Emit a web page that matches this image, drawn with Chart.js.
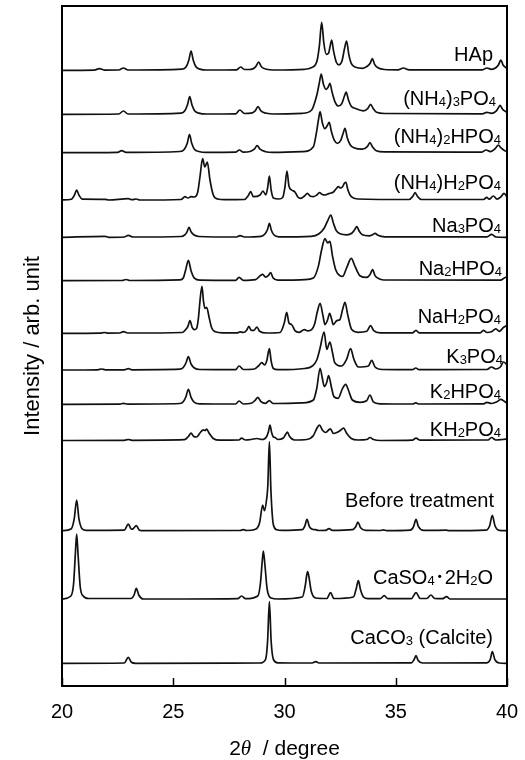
<!DOCTYPE html>
<html><head><meta charset="utf-8">
<script src="https://cdn.jsdelivr.net/npm/chart.js@4.4.1/dist/chart.umd.min.js"></script>
<style>html,body{margin:0;padding:0;background:#fff}canvas{display:block}</style>
</head><body>
<canvas id="c" width="525" height="760"></canvas>
<script>
// ---------- DATA ----------
const xTicks = [20, 25, 30, 35, 40];
const sampleNames = ["HAp","(NH_4)_3PO_4","(NH_4)_2HPO_4","(NH_4)H_2PO_4","Na_3PO_4","Na_2HPO_4","NaH_2PO_4","K_3PO_4","K_2HPO_4","KH_2PO_4","Before treatment","CaSO_4\uFF652H_2O","CaCO_3 (Calcite)"];
// stacking offset (arb. unit) for each pattern
const baselines = [615.7, 571.7, 533.3, 486, 448.7, 405.3, 352.7, 316, 281.7, 245.5, 155.3, 87, 22.7];

// each pattern: [2theta, intensity above its baseline]
const hap = [[20,0],[21.45,0.2],[21.68,1.7],[21.9,0.2],[22.55,0.3],[22.76,2.3],[22.97,0.3],
[25.4,1.2],[25.58,3.5],[25.7,10],[25.8,19.3],[25.9,10],[26.02,3.5],[26.2,1.2],[26.5,0.3],
[27.85,0.5],[28.03,3.3],[28.2,0.8],[28.5,1],[28.7,3.5],[28.84,8.3],[28.96,3.5],[29.2,1],[29.5,0.3],
[30.9,1],[31.2,2.5],[31.45,8.5],[31.57,25],[31.67,48],[31.77,27],[31.88,16],[31.98,17],[32.05,24],[32.12,30.3],[32.2,20],[32.33,8],[32.45,5.5],[32.58,9],[32.7,22],[32.79,29.3],[32.89,16],[33.0,7],[33.2,3],[33.5,2],[33.72,4],[33.85,7],[33.95,11.7],[34.05,6],[34.2,2.5],[34.5,0.8],
[35.1,0.5],[35.34,2.3],[35.6,0.5],[38.9,0.5],[39.09,2.3],[39.3,1],[39.5,2.5],[39.62,5.5],[39.72,10.3],[39.83,5],[40,2]];

const nh4_3 = [[20,0],[22.55,0.3],[22.76,3.3],[22.97,0.3],
[25.35,1.2],[25.52,3.5],[25.64,9.5],[25.74,17.7],[25.84,9.5],[25.96,3.5],[26.15,1.2],[26.5,0.3],
[27.8,0.5],[27.99,4.3],[28.2,0.8],[28.5,1.2],[28.68,3.5],[28.81,7.7],[28.94,3.5],[29.2,1],[29.5,0.3],
[30.8,1],[31.22,4.3],[31.45,19],[31.57,32],[31.65,40.3],[31.75,30],[31.87,25],[31.96,27],[32.04,31],[32.14,22],[32.28,12],[32.42,8.3],[32.58,11],[32.69,18],[32.77,22.3],[32.88,14],[33.0,8],[33.17,6],[33.54,3.5],[33.75,6],[33.87,10],[33.98,6],[34.14,2],[34.5,0.8],
[38.9,0.5],[39.09,2],[39.3,1],[39.5,3],[39.6,6],[39.69,9],[39.8,5],[40,2]];

const nh4_2h = [[20,0],[22.5,0.3],[22.68,2],[22.88,0.3],
[25.3,1.2],[25.5,3.5],[25.63,9.5],[25.73,18],[25.83,9.5],[25.95,3.5],[26.15,1.2],[26.5,0.3],
[27.8,0.5],[27.97,2.7],[28.15,0.6],[28.45,1.2],[28.64,3.5],[28.77,7],[28.9,3.5],[29.15,1],[29.5,0.3],
[30.8,1],[31.3,6],[31.42,18],[31.52,32],[31.6,41],[31.7,30],[31.81,24],[31.92,27],[32.01,30.3],[32.11,21],[32.25,12],[32.38,9.3],[32.52,12],[32.63,19],[32.72,24.3],[32.82,15],[32.95,8],[33.12,5],[33.5,3.5],[33.72,6],[33.84,10],[33.95,6],[34.12,2],[34.5,0.8],
[38.85,0.5],[39.06,2.7],[39.25,1],[39.42,3],[39.52,5.5],[39.61,7.7],[39.72,5],[39.9,2],[40,1.5]];

const nh4_h2 = [[20,0],[20.42,0.8],[20.56,5],[20.66,10],[20.76,5],[20.92,0.8],[21.93,0.7],[22.1,0],[22.98,1.3],[23.15,0.3],[23.33,1],[23.5,0],
[25.35,0.5],[25.53,3.3],[25.66,2],[25.8,3.3],[25.95,3],[26.1,8],[26.2,23],[26.32,41.3],[26.42,33],[26.53,38],[26.65,20],[26.8,5],[27.0,1],[27.3,0.3],
[28.2,0.5],[28.36,4],[28.48,8.3],[28.6,3.3],[28.9,5],[29.03,9],[29.16,5],[29.24,12],[29.32,24],[29.4,10],[29.5,2],[29.75,1],[29.92,2.5],[30.02,13],[30.11,29],[30.2,14],[30.32,10],[30.47,8],[30.6,3],[30.73,1.7],[30.9,4],[31.03,6.7],[31.15,4],[31.3,3.3],[31.45,5],[31.57,7.3],[31.7,5.5],[31.82,5],[31.94,6],[32.04,6.7],[32.2,8],[32.35,12],[32.42,13.3],[32.52,12],[32.6,13],[32.7,17],[32.76,17.7],[32.85,10],[33.0,3.3],[33.3,1],
[35.6,0.5],[35.76,3.5],[35.87,7.3],[35.98,3.5],[36.15,0.5],[38.95,0.5],[39.09,2.7],[39.2,0.8],[39.39,4],[39.55,0.8],[39.72,3],[39.87,6.7],[40,3]];

const na3 = [[20,0],[21.93,1],[22.1,0],[22.8,0.3],[22.98,2],[23.2,0.3],[25.35,0.8],[25.52,2.5],[25.62,5.5],[25.71,10],[25.8,5.5],[25.92,2.5],[26.15,0.8],[27.85,0.3],[28.0,1.7],[28.2,0.3],[28.95,1],[29.13,3.5],[29.24,8],[29.32,14],[29.41,7],[29.52,2.5],[29.75,0.5],
[31.2,1],[31.55,3.5],[31.78,9],[31.95,17],[32.08,22.3],[32.2,14],[32.32,7],[32.5,3.5],[32.8,2.5],[33.02,4],[33.15,7.5],[33.25,10.7],[33.36,6],[33.5,2.5],[33.8,1.5],[33.95,2.5],[34.07,4],[34.2,2],[34.5,0.5],[39.1,0.5],[39.31,3],[39.5,0.3],[40,0]];

const na2h = [[20,0],[22.7,0.2],[22.88,1.2],[23.05,0.2],[25.3,0.8],[25.45,2.7],[25.56,11],[25.68,20.3],[25.8,10],[25.95,2.5],[26.2,0.5],[27.8,0.3],[27.96,3.3],[28.15,0.3],[28.7,1],[28.88,4.5],[29.02,6.3],[29.15,3.5],[29.27,5],[29.38,8],[29.48,3],[29.7,0.5],
[30.9,1],[31.3,2.7],[31.52,14.3],[31.67,31],[31.82,42],[31.94,37.7],[32.04,39.3],[32.16,24.3],[32.3,11],[32.49,5],[32.61,4.3],[32.79,12.7],[33.0,22.3],[33.17,14.3],[33.39,5],[33.69,3.3],[33.84,6],[33.96,11],[34.07,5],[34.14,3.3],[34.45,0.7],[39.7,0.5],[39.9,3],[40,4]];

const nah2 = [[20,0],[21.7,0.2],[21.9,0.8],[22.1,0.2],[22.6,0.3],[22.76,1.7],[22.95,0.3],[25.4,0.8],[25.55,3.5],[25.66,7],[25.75,12.7],[25.85,6],[25.95,3.7],[26.05,5],[26.13,15],[26.2,32],[26.29,47],[26.36,32],[26.42,25],[26.5,26],[26.62,15],[26.73,5.3],[26.9,1.5],[27.2,0.5],
[27.9,0.5],[28.0,1.5],[28.15,0.8],[28.3,3],[28.4,7],[28.5,3],[28.63,3],[28.76,6.3],[28.88,2],[29.2,0.3],[29.8,0.8],[29.99,10.3],[30.1,21],[30.2,10.3],[30.32,8.7],[30.47,2.7],[30.65,1],[30.89,3.7],[31.05,2.5],
[31.22,3.7],[31.35,9],[31.48,22],[31.6,30],[31.72,18.7],[31.82,8.7],[31.93,13],[32.03,20],[32.12,14],[32.19,8.7],[32.35,12.7],[32.49,13.7],[32.61,23.7],[32.72,31],[32.84,18.7],[33.02,3.7],[33.3,1],[33.7,2],[33.87,7.7],[34.0,3],[34.3,0.5],
[35.75,0.5],[35.91,3],[36.05,0.5],[38.8,0.5],[38.94,3],[39.1,0.8],[39.3,1.5],[39.5,4.5],[39.65,2],[39.85,6],[40,8]];

const k3 = [[20,0],[21.6,0.2],[21.78,1],[21.95,0.2],[22.8,0.2],[22.98,1.3],[23.15,0.2],[25.3,0.8],[25.45,2.5],[25.57,7],[25.68,13.3],[25.8,6],[25.95,2],[26.2,0.5],[27.8,0.3],[27.96,4],[28.15,0.5],[28.65,1],[28.85,4.5],[28.98,7.3],[29.1,5],[29.2,9],[29.32,21.3],[29.4,9],[29.5,1.5],[29.7,0.3],
[30.9,1.5],[31.25,4],[31.45,10],[31.6,22],[31.78,38],[31.9,20.7],[32.04,28],[32.16,17],[32.26,7.3],[32.56,4],[32.79,10.7],[32.97,21.3],[33.12,10.7],[33.32,3],[33.77,4],[33.92,9.7],[34.07,3],[34.4,0.5],
[35.75,0.3],[35.9,2],[36.05,0.3],[39.1,0.5],[39.3,3],[39.5,1],[39.7,3],[39.85,8],[40,5]];

const k2h = [[20,0],[22.6,0.2],[22.76,1],[22.95,0.2],[25.3,0.8],[25.45,2.5],[25.57,7.5],[25.68,15],[25.8,7],[25.95,2],[26.2,0.5],[27.8,0.3],[27.96,3.3],[28.15,0.3],[28.5,1],[28.68,4],[28.8,7],[28.93,3],[29.15,1],[29.32,3.7],[29.48,0.8],
[30.8,1.5],[31.3,4.3],[31.45,16],[31.6,36],[31.7,26],[31.79,17.7],[31.9,22],[31.98,28.7],[32.12,16],[32.22,7.7],[32.41,6],[32.61,16],[32.75,20],[32.87,14.3],[33.05,4.3],[33.4,2],[33.69,3.5],[33.84,9.3],[33.99,2.5],[34.3,0.5],
[35.75,0.3],[35.9,1.5],[36.05,0.3],[38.95,0.5],[39.1,2],[39.3,0.8],[39.55,2.5],[39.72,5],[39.88,3],[40,1]];

const kh2 = [[20,0],[22.8,0.2],[22.98,1],[23.15,0.2],[25.5,0.8],[25.68,4],[25.8,7.3],[25.92,4],[26.05,3.5],[26.2,7.5],[26.35,10.7],[26.43,10],[26.5,11.3],[26.62,7],[26.8,2],[27.1,0.3],
[27.95,0.5],[28.07,2.3],[28.25,0.5],[28.5,1],[28.75,2],[29.0,1],[29.2,4],[29.28,9],[29.35,15.3],[29.42,8],[29.5,3.5],[29.58,3],[29.7,1],[29.95,2.5],[30.05,6],[30.13,8.3],[30.23,4],[30.45,0.5],
[31.0,1],[31.3,5],[31.45,12],[31.57,15.3],[31.72,10],[31.85,8],[32.06,11.7],[32.2,7],[32.35,8],[32.5,10],[32.65,12.3],[32.8,7],[33.0,2],[33.3,0.5],[33.7,1],[33.84,3],[34.0,1],[34.3,0],
[35.75,0.3],[35.91,2.3],[36.1,0.3],[39.15,0.5],[39.3,3],[39.5,0.5],[39.8,1],[40,1.5]];

const before = [[20,0],[20.42,2],[20.55,12],[20.66,30.7],[20.76,12],[20.9,2],[21.1,0.3],[22.8,0.5],[22.98,6.7],[23.12,1.5],[23.2,2],[23.34,5],[23.48,0.5],[23.7,0],
[28.0,0.2],[28.15,1],[28.3,0.2],[28.7,1.5],[28.88,8],[29.02,25.7],[29.1,20],[29.2,32],[29.25,45],[29.32,89],[29.39,40],[29.5,6],[29.65,1],[29.9,0.3],
[30.8,1],[30.92,5],[31.01,11.3],[31.12,4],[31.25,1.5],[31.4,1],[31.55,0.2],[31.85,0.3],[32.0,2],[32.15,0.3],[33.05,1],[33.2,4],[33.3,8.7],[33.42,3],[33.65,0.3],[34.3,0.2],[34.43,0.8],[34.6,0],
[35.65,0.5],[35.8,4],[35.91,11.3],[36.02,4],[36.25,0.3],[36.55,0.3],[37.25,0.5],[37.4,0],[39.05,0.5],[39.22,5],[39.34,15.3],[39.46,5],[39.65,0.3],[40,0]];

const caso4 = [[20,0],[20.4,3],[20.52,15],[20.6,45],[20.66,65],[20.72,45],[20.82,12],[20.95,3],[21.2,0.5],[23.1,0.5],[23.24,4],[23.34,10.7],[23.45,4],[23.65,0],[25.5,0],
[27.9,0.3],[28.07,3],[28.25,0.3],[28.8,3],[28.92,16],[29.0,38],[29.05,48],[29.12,34],[29.22,10],[29.4,1],[29.7,0],
[30.8,2],[30.93,13],[31.0,24],[31.04,27.3],[31.1,22],[31.2,8],[31.4,1],[31.9,0.5],[32.07,6.3],[32.22,0.5],[33.1,2],[33.22,10],[33.32,18.3],[33.42,9],[33.55,2],[33.75,0.3],
[34.3,0.3],[34.48,3.3],[34.65,0.3],[35.7,0.3],[35.91,6.3],[36.1,0.5],[36.4,0.5],[36.58,4],[36.75,0.5],[37.1,0.3],[37.28,2.3],[37.45,0],[40,0]];

const caco3 = [[20,0],[22.8,0.3],[22.98,6],[23.12,1],[23.3,0],[28.9,0.3],[29.15,4],[29.24,22],[29.32,61.7],[29.4,22],[29.5,4],[29.7,0.5],[31.25,0.3],[31.4,1.7],[31.55,0.3],
[35.7,0.5],[35.82,3.5],[35.91,7.7],[36.0,3],[36.2,0.3],[39.1,0.5],[39.25,4],[39.34,11.7],[39.45,4],[39.65,0.3],[40,0]];

const patterns = [hap, nh4_3, nh4_2h, nh4_h2, na3, na2h, nah2, k3, k2h, kh2, before, caso4, caco3];

// ---------- LAYOUT / STYLE ----------
const FONT = "'Liberation Sans', Arial, 'Noto Sans CJK JP', sans-serif";
const labelLift = [16, 16, 17, 18, 12, 13, 17, 14, 13, 12, 31, 22, 26];
const labelRightGap = [14, 11, 6, 6, 6, 5, 6, 4, 6, 6, 13, 14, 14];

const datasets = patterns.map((p, i) => ({
  label: sampleNames[i],
  data: p.map(([t, v]) => ({ x: t, y: baselines[i] + v })),
  borderColor: '#111',
  borderWidth: 1.7,
  pointRadius: 0,
  fill: false,
  cubicInterpolationMode: 'monotone'
}));

function drawRich(ctx, str, right, baseY) {
  const segs = [];
  for (let k = 0; k < str.length; k++) {
    if (str[k] === '_' && k + 1 < str.length) { segs.push({ t: str[k + 1], sub: true }); k++; }
    else {
      const last = segs[segs.length - 1];
      if (last && !last.sub) last.t += str[k]; else segs.push({ t: str[k], sub: false });
    }
  }
  let w = 0;
  segs.forEach(s => { ctx.font = (s.sub ? '13px ' : '20px ') + FONT; s.w = ctx.measureText(s.t).width; w += s.w; });
  let xx = right - w;
  segs.forEach(s => {
    ctx.font = (s.sub ? '13px ' : '20px ') + FONT;
    ctx.fillText(s.t, xx, baseY + (s.sub ? 1 : 0));
    xx += s.w;
  });
}

const decor = {
  id: 'decor',
  afterDatasetsDraw(chart) {
    const { ctx, chartArea: a, scales: { x, y } } = chart;
    ctx.save();
    ctx.strokeStyle = '#000';
    ctx.fillStyle = '#000';
    ctx.lineWidth = 1.5;
    xTicks.forEach(v => {
      const px = Math.round(x.getPixelForValue(v)) + 0.5;
      ctx.beginPath(); ctx.moveTo(px, a.bottom); ctx.lineTo(px, a.bottom - 8); ctx.stroke();
    });
    ctx.lineWidth = 2;
    ctx.strokeRect(a.left, a.top, a.right - a.left, a.bottom - a.top);
    ctx.textBaseline = 'alphabetic';
    ctx.textAlign = 'left';
    sampleNames.forEach((n, i) => {
      const by = y.getPixelForValue(baselines[i]) - labelLift[i] + 7;
      drawRich(ctx, n, a.right - labelRightGap[i], by);
    });
    const cx = (a.left + a.right) / 2, ty = 755;
    const parts = [{ t: '2', f: '21px ' + FONT }, { t: '\u03B8', f: 'italic 21px "Liberation Serif", serif' }, { t: '  / degree', f: '21px ' + FONT }];
    let tw = 0;
    parts.forEach(p => { ctx.font = p.f; p.w = ctx.measureText(p.t).width; tw += p.w; });
    let xx = cx - tw / 2;
    parts.forEach(p => { ctx.font = p.f; ctx.fillText(p.t, xx, ty); xx += p.w; });
    ctx.save();
    ctx.translate(33, (a.top + a.bottom) / 2);
    ctx.rotate(-Math.PI / 2);
    ctx.font = '22px ' + FONT;
    ctx.textAlign = 'center';
    ctx.textBaseline = 'middle';
    ctx.fillText('Intensity / arb. unit', 0, 0);
    ctx.restore();
    ctx.restore();
  }
};

new Chart(document.getElementById('c'), {
  type: 'line',
  data: { datasets },
  options: {
    responsive: false,
    animation: false,
    layout: { padding: { left: 62, right: 18, top: 6, bottom: 0 } },
    plugins: { legend: { display: false }, tooltip: { enabled: false } },
    scales: {
      x: {
        type: 'linear', min: 20, max: 40,
        afterBuildTicks: s => { s.ticks = xTicks.map(v => ({ value: v })); },
        afterFit: s => { s.height = 74; s.paddingLeft = 0; s.paddingRight = 0; },
        grid: { display: false, drawTicks: false },
        border: { display: false },
        ticks: { color: '#000', font: { family: FONT, size: 20 }, padding: 14, maxRotation: 0 }
      },
      y: { type: 'linear', min: 0, max: 680, display: false }
    }
  },
  plugins: [decor]
});
</script>
</body></html>
